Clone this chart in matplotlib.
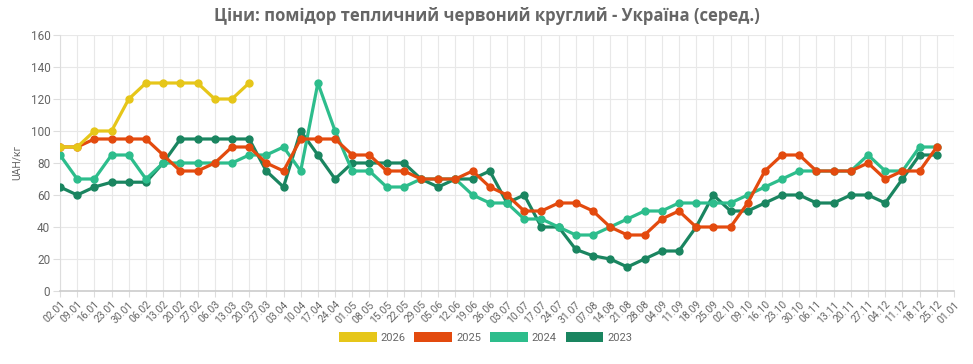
import matplotlib
matplotlib.use("Agg")
import matplotlib.pyplot as plt
from matplotlib.patches import Patch

plt.rcParams['font.family'] = ['Roboto', 'DejaVu Sans']

# weekly dates
dates = ['02.01', '09.01', '16.01', '23.01', '30.01', '06.02', '13.02', '20.02', '27.02',
         '06.03', '13.03', '20.03', '27.03', '03.04', '10.04', '17.04', '24.04', '01.05',
         '08.05', '15.05', '22.05', '29.05', '05.06', '12.06', '19.06', '26.06', '03.07',
         '10.07', '17.07', '24.07', '31.07', '07.08', '14.08', '21.08', '28.08', '04.09',
         '11.09', '18.09', '25.09', '02.10', '09.10', '16.10', '23.10', '30.10', '06.11',
         '13.11', '20.11', '27.11', '04.12', '11.12', '18.12', '25.12', '01.01']

y2026 = [90, 90, 100, 100, 120, 130, 130, 130, 130, 120, 120, 130]
y2025 = [90, 90, 95, 95, 95, 95, 85, 75, 75, 80, 90, 90, 80, 75, 95, 95, 95, 85,
         85, 75, 75, 70, 70, 70, 75, 65, 60, 50, 50, 55, 55, 50, 40, 35, 35, 45,
         50, 40, 40, 40, 55, 75, 85, 85, 75, 75, 75, 80, 70, 75, 75, 90]
y2024 = [85, 70, 70, 85, 85, 70, 80, 80, 80, 80, 80, 85, 85, 90, 75, 130, 100, 75,
         75, 65, 65, 70, 70, 70, 60, 55, 55, 45, 45, 40, 35, 35, 40, 45, 50, 50,
         55, 55, 55, 55, 60, 65, 70, 75, 75, 75, 75, 85, 75, 75, 90, 90]
y2023 = [65, 60, 65, 68, 68, 68, 80, 95, 95, 95, 95, 95, 75, 65, 100, 85, 70, 80,
         80, 80, 80, 70, 65, 70, 70, 75, 55, 60, 40, 40, 26, 22, 20, 15, 20, 25,
         25, 40, 60, 50, 50, 55, 60, 60, 55, 55, 60, 60, 55, 70, 85, 85]

series = [('2026', y2026, '#e6c619'),
          ('2025', y2025, '#e34a0e'),
          ('2024', y2024, '#2dbd8c'),
          ('2023', y2023, '#1a8560')]

fig = plt.figure(figsize=(9.73, 3.64), dpi=100)
ax = fig.add_axes([60 / 973, 1 - 291 / 364, (954 - 60) / 973, (291 - 35) / 364])

# draw oldest first so 2026 ends on top
for name, vals, col in reversed(series):
    ax.plot(range(len(vals)), vals, color=col, lw=2.3, marker='o', ms=5,
            solid_joinstyle='round', zorder=3)

ax.set_xlim(0, len(dates) - 1)
ax.set_ylim(0, 160)
ax.set_yticks(range(0, 161, 20))
ax.set_xticks(range(len(dates)))
ax.set_xticklabels(dates, rotation=45, ha='right', rotation_mode='anchor', fontsize=7.5)
ax.tick_params(axis='x', colors='#666666', length=4, pad=2, color='#dddddd')
ax.tick_params(axis='y', colors='#666666', labelsize=8.5, length=5, pad=2, color='#dddddd')
ax.grid(True, color='#e8e8e8', lw=0.8, zorder=0)
for s in ['top', 'right']:
    ax.spines[s].set_visible(False)
ax.spines['left'].set_color('#dddddd')
ax.spines['bottom'].set_color('#cccccc')
ax.spines['bottom'].set_linewidth(1.2)
ax.set_ylabel('UAH/кг', color='#666666', fontsize=7.5, labelpad=6)

fig.text(0.5, 0.955, 'Ціни: помідор тепличний червоний круглий - Україна (серед.)',
         ha='center', va='center', fontsize=12, fontweight='bold', color='#666666',
         family=['Open Sans', 'DejaVu Sans'])

handles = [Patch(facecolor=c, edgecolor='none', label=n) for n, v, c in series]
fig.legend(handles=handles, loc='center', bbox_to_anchor=(0.499, 0.074), ncol=4,
           frameon=False, handlelength=3.4, handleheight=1.1, handletextpad=0.35,
           columnspacing=0.8, fontsize=8, labelcolor='#666666')

fig.savefig('out.png', dpi=100)
